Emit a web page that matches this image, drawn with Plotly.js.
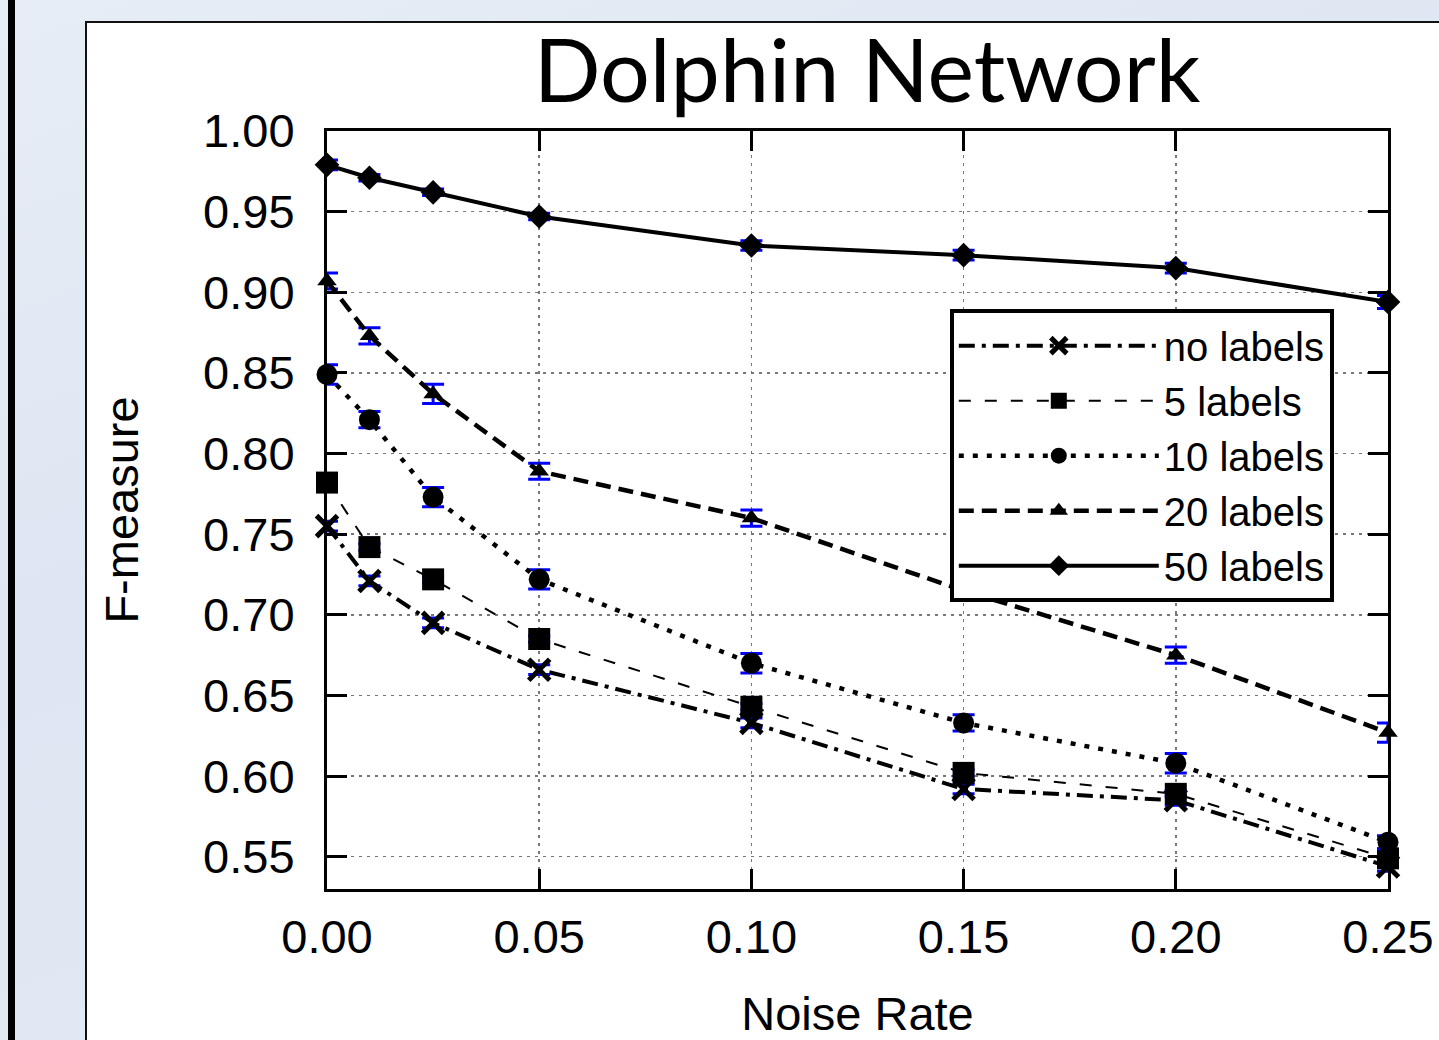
<!DOCTYPE html>
<html>
<head>
<meta charset="utf-8">
<script src="https://cdn.plot.ly/plotly-3.0.1.min.js"></script>
<style>
  html, body { margin: 0; padding: 0; width: 1439px; height: 1040px; overflow: hidden; }
  body { background: linear-gradient(160deg, #e6edf6 0%, #dde6f2 40%, #e3eaf4 100%); position: relative; }
  #bar { position: absolute; left: 8px; top: 0; width: 7px; height: 1040px; background: #000; }
  #panel { position: absolute; left: 85px; top: 21px; width: 1400px; height: 1100px; background: #fff; border: 2px solid #111; }
  #chart { position: absolute; left: 0; top: 0; width: 1439px; height: 1040px; }
</style>
</head>
<body>
<div id="bar"></div>
<div id="panel"></div>
<div id="chart"></div>
<script>
// Noise rate (x)
const noiseRate = [0.00, 0.01, 0.025, 0.05, 0.10, 0.15, 0.20, 0.25];

// F-measure per series
const noLabels   = [0.755, 0.721, 0.695, 0.666, 0.633, 0.592, 0.585, 0.544];
const labels5    = [0.782, 0.742, 0.722, 0.685, 0.643, 0.602, 0.589, 0.549];
const labels10   = [0.849, 0.821, 0.773, 0.722, 0.670, 0.633, 0.608, 0.559];
const labels20   = [0.907, 0.873, 0.837, 0.789, 0.760, 0.715, 0.675, 0.627];
const labels50   = [0.979, 0.971, 0.962, 0.947, 0.929, 0.923, 0.915, 0.894];

// Error (half-width)
const errNo  = [0.003, 0.003, 0.003, 0.003, 0.003, 0.003, 0.003, 0.003];
const err5   = [0.002, 0.002, 0.002, 0.002, 0.002, 0.002, 0.002, 0.002];
const err10  = [0.006, 0.005, 0.006, 0.006, 0.006, 0.005, 0.006, 0.004];
const err20  = [0.005, 0.005, 0.006, 0.005, 0.005, 0.005, 0.005, 0.006];
const err50  = [0.003, 0.002, 0.002, 0.002, 0.003, 0.003, 0.003, 0.004];

const seriesNames = ['no labels', '5 labels', '10 labels', '20 labels', '50 labels'];
const yTicks = [0.55, 0.60, 0.65, 0.70, 0.75, 0.80, 0.85, 0.90, 0.95, 1.00];
const xTicks = [0.00, 0.05, 0.10, 0.15, 0.20, 0.25];

function errBar(arr) {
  return { type: 'data', array: arr, visible: true, color: '#0000ff', thickness: 3, width: 11 };
}

const traces = [
  { x: noiseRate, y: noLabels, name: seriesNames[0], mode: 'lines+markers', cliponaxis: false,
    line: { color: '#000', width: 4, dash: '16px,7px,4px,7px' },
    marker: { symbol: 'x-thin-open', size: 21, color: '#000', line: { color: '#000', width: 5 } },
    error_y: errBar(errNo) },
  { x: noiseRate, y: labels5, name: seriesNames[1], mode: 'lines+markers', cliponaxis: false,
    line: { color: '#000', width: 2, dash: '12px,14px' },
    marker: { symbol: 'square', size: 22, color: '#000' },
    error_y: errBar(err5) },
  { x: noiseRate, y: labels10, name: seriesNames[2], mode: 'lines+markers', cliponaxis: false,
    line: { color: '#000', width: 4.5, dash: '5px,9px' },
    marker: { symbol: 'circle', size: 21, color: '#000' },
    error_y: errBar(err10) },
  { x: noiseRate, y: labels20, name: seriesNames[3], mode: 'lines+markers', cliponaxis: false,
    line: { color: '#000', width: 4.5, dash: '15px,8px' },
    marker: { symbol: 'triangle-up', size: 17, color: '#000' },
    error_y: errBar(err20) },
  { x: noiseRate, y: labels50, name: seriesNames[4], mode: 'lines+markers', cliponaxis: false,
    line: { color: '#000', width: 4 },
    marker: { symbol: 'diamond', size: 19, color: '#000' },
    error_y: errBar(err50) }
];

const tickFont = { family: 'Liberation Sans, Arial, sans-serif', size: 47, color: '#000' };

const layout = {
  width: 1439, height: 1040,
  margin: { l: 327, r: 51, t: 131, b: 151, pad: 0 },
  paper_bgcolor: 'rgba(0,0,0,0)',
  plot_bgcolor: '#fff',
  showlegend: true,
  title: {
    text: 'Dolphin Network',
    font: { family: 'Lato, Carlito, sans-serif', size: 88, color: '#000' },
    xref: 'paper', x: 0.509, xanchor: 'center',
    yref: 'container', y: 0.932, yanchor: 'middle'
  },
  xaxis: {
    range: [0, 0.25], tickvals: xTicks, ticktext: xTicks.map(v => v.toFixed(2)),
    ticks: 'inside', ticklen: 20, tickwidth: 3, tickcolor: '#000',
    showline: true, linecolor: '#000', linewidth: 3, mirror: 'ticks',
    showgrid: true, gridcolor: '#777', gridwidth: 1.5, griddash: '3px,5px',
    zeroline: false, tickfont: tickFont, ticklabelstandoff: 5,
    title: { text: 'Noise Rate', font: tickFont, standoff: 40 },
    automargin: false
  },
  yaxis: {
    range: [0.53, 1.0], tickvals: yTicks, ticktext: yTicks.map(v => v.toFixed(2)),
    ticks: 'inside', ticklen: 20, tickwidth: 3, tickcolor: '#000',
    showline: true, linecolor: '#000', linewidth: 3, mirror: 'ticks',
    showgrid: true, gridcolor: '#777', gridwidth: 1.5, griddash: '3px,5px',
    zeroline: false, tickfont: tickFont, ticklabelstandoff: 20,
    title: { text: 'F-measure', font: tickFont, standoff: 50 },
    automargin: false
  },
  legend: {
    x: 0.587, xanchor: 'left', y: 0.765, yanchor: 'top',
    bgcolor: '#fff', bordercolor: '#000', borderwidth: 4,
    font: { family: 'Liberation Sans, Arial, sans-serif', size: 40, color: '#000' },
    itemwidth: 200, tracegroupgap: 0
  }
};

Plotly.newPlot('chart', traces, layout, { displayModeBar: false, staticPlot: true });
</script>
</body>
</html>
